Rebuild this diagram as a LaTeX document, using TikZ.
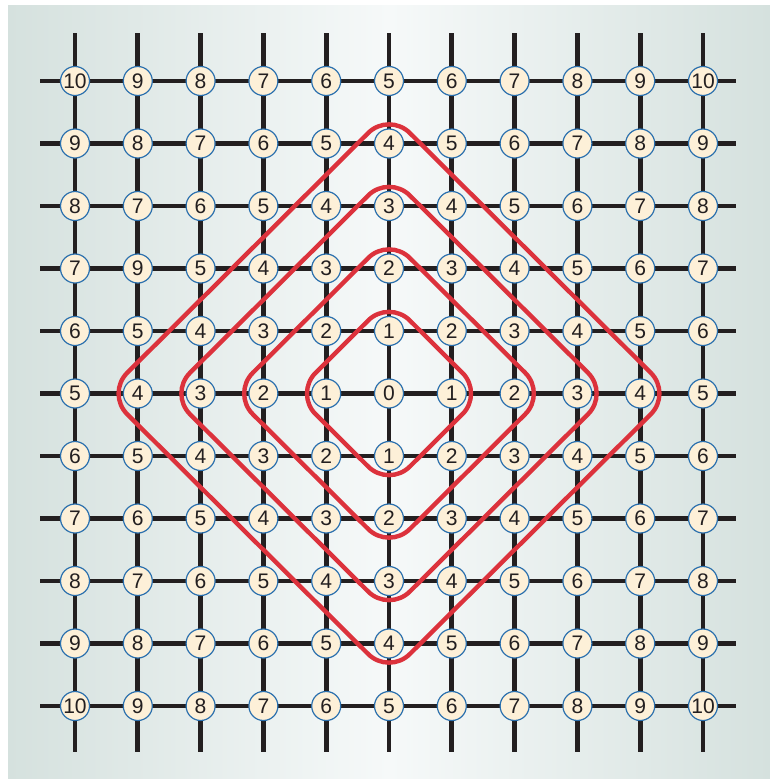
\documentclass[tikz,border=0pt]{standalone}
\usepackage{fontspec}
\setmainfont{Liberation Sans}
\usetikzlibrary{calc}
\definecolor{gridc}{HTML}{231F20}
\definecolor{circfill}{HTML}{FDF0D8}
\definecolor{circline}{HTML}{2B70AE}
\definecolor{redc}{HTML}{DC323C}
\definecolor{bgedge}{HTML}{D5E1DE}
\definecolor{bgmid}{HTML}{F6F9F9}
\pgfdeclarelayer{backlayer}
\pgfdeclarelayer{linelayer}
\pgfsetlayers{backlayer,linelayer,main}
\begin{document}
\begin{tikzpicture}[x=0.75pt,y=-0.75pt,
  gridline/.style={draw=gridc,line width=3.5pt},
  dot/.style={circle,draw=circline,line width=0.9pt,fill=circfill,minimum size=21.75pt,inner sep=0pt,font=\fontsize{15.8}{18}\selectfont,text=gridc},
  ring/.style={draw=redc,line width=3.3pt,rounded corners=22pt}]
\useasboundingbox (0,0) rectangle (770,779);
\begin{pgfonlayer}{backlayer}
  \shade[left color=bgedge,right color=bgedge,middle color=bgmid] (8,5) rectangle (770,779);
\end{pgfonlayer}
\foreach \c in {0,...,10}{
  \foreach \r in {0,...,10}{
    \pgfmathtruncatemacro\v{abs(\c-5)+abs(\r-5)}
    \ifnum\c=1 \ifnum\r=3 \def\v{9}\fi\fi
    \node[dot] (n-\c-\r) at ({75+62.8*\c},{81+62.5*\r}) {\v};
  }
}
\foreach \i in {0,...,10}{
  \coordinate (vt-\i) at ({75+62.8*\i},33);
  \coordinate (vb-\i) at ({75+62.8*\i},752);
  \coordinate (hl-\i) at (40,{81+62.5*\i});
  \coordinate (hr-\i) at (736,{81+62.5*\i});
}
\begin{pgfonlayer}{linelayer}
  \foreach \i in {0,...,10}{
    \draw[gridline] (vt-\i) -- (n-\i-0.center) -- (n-\i-10.center) -- (vb-\i);
    \draw[gridline] (hl-\i) -- (n-0-\i.center) -- (n-10-\i.center) -- (hr-\i);
  }
\end{pgfonlayer}
\foreach \k in {1,...,4}{
  \pgfmathsetmacro\dx{(\k+0.5)*62.8}
  \pgfmathsetmacro\dy{(\k+0.5)*62.5}
  \draw[ring] ($(n-5-5.center)+(-0.5*\dx,-0.5*\dy)$)
    -- ($(n-5-5.center)+(0,-\dy)$)
    -- ($(n-5-5.center)+(\dx,0)$)
    -- ($(n-5-5.center)+(0,\dy)$)
    -- ($(n-5-5.center)+(-\dx,0)$)
    -- cycle;
}
\end{tikzpicture}
\end{document}
